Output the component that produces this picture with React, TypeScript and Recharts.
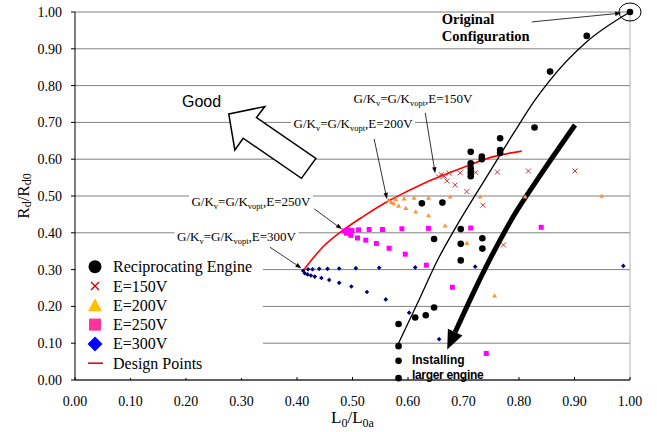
import React from "react";
import {
  ComposedChart,
  CartesianGrid,
  XAxis,
  YAxis,
  Scatter,
  Line,
  Legend,
  ReferenceDot,
  ReferenceLine
} from "recharts";

const SERIF = '"Liberation Serif", "Times New Roman", serif';
const SANS = '"Liberation Sans", Arial, sans-serif';

const ticks = [0, 0.1, 0.2, 0.3, 0.4, 0.5, 0.6, 0.7, 0.8, 0.9, 1.0];

const seriesNames = [
  "Reciprocating Engine",
  "E=150V",
  "E=200V",
  "E=250V",
  "E=300V",
  "Design Points"
];

const reciprocating = [
  { x: 0.583, y: 0.005 }, { x: 0.583, y: 0.052 }, { x: 0.583, y: 0.092 },
  { x: 0.583, y: 0.152 }, { x: 0.613, y: 0.17 }, { x: 0.632, y: 0.176 },
  { x: 0.647, y: 0.197 }, { x: 0.625, y: 0.48 }, { x: 0.662, y: 0.482 },
  { x: 0.647, y: 0.383 }, { x: 0.695, y: 0.41 }, { x: 0.695, y: 0.37 },
  { x: 0.695, y: 0.325 }, { x: 0.734, y: 0.385 }, { x: 0.734, y: 0.357 },
  { x: 0.713, y: 0.62 }, { x: 0.713, y: 0.589 }, { x: 0.713, y: 0.575 },
  { x: 0.713, y: 0.564 }, { x: 0.713, y: 0.554 }, { x: 0.733, y: 0.607 },
  { x: 0.733, y: 0.6 }, { x: 0.766, y: 0.657 }, { x: 0.766, y: 0.625 },
  { x: 0.766, y: 0.617 }, { x: 0.828, y: 0.686 }, { x: 0.856, y: 0.838 },
  { x: 0.922, y: 0.935 }, { x: 1.0, y: 1.0 }
];

const e150 = [
  { x: 0.655, y: 0.552 }, { x: 0.66, y: 0.558 }, { x: 0.665, y: 0.554 },
  { x: 0.67, y: 0.541 }, { x: 0.674, y: 0.562 }, { x: 0.685, y: 0.53 },
  { x: 0.694, y: 0.563 }, { x: 0.706, y: 0.512 }, { x: 0.722, y: 0.564 },
  { x: 0.735, y: 0.475 }, { x: 0.761, y: 0.565 }, { x: 0.772, y: 0.367 },
  { x: 0.817, y: 0.568 }, { x: 0.901, y: 0.568 }
];

const e200 = [
  { x: 0.565, y: 0.489 }, { x: 0.57, y: 0.483 }, { x: 0.574, y: 0.48 },
  { x: 0.578, y: 0.491 }, { x: 0.583, y: 0.473 }, { x: 0.593, y: 0.493 },
  { x: 0.596, y: 0.467 }, { x: 0.611, y: 0.495 }, { x: 0.614, y: 0.457 },
  { x: 0.637, y: 0.495 }, { x: 0.637, y: 0.447 }, { x: 0.667, y: 0.419 },
  { x: 0.676, y: 0.498 }, { x: 0.706, y: 0.372 }, { x: 0.73, y: 0.498 },
  { x: 0.756, y: 0.229 }, { x: 0.811, y: 0.498 }, { x: 0.949, y: 0.5 }
];

const e250 = [
  { x: 0.485, y: 0.405 }, { x: 0.489, y: 0.399 }, { x: 0.492, y: 0.408 },
  { x: 0.497, y: 0.393 }, { x: 0.499, y: 0.406 }, { x: 0.511, y: 0.408 },
  { x: 0.509, y: 0.386 }, { x: 0.524, y: 0.38 }, { x: 0.53, y: 0.409 },
  { x: 0.543, y: 0.371 }, { x: 0.554, y: 0.409 }, { x: 0.566, y: 0.358 },
  { x: 0.589, y: 0.411 }, { x: 0.595, y: 0.342 }, { x: 0.633, y: 0.312 },
  { x: 0.637, y: 0.412 }, { x: 0.68, y: 0.252 }, { x: 0.713, y: 0.413 },
  { x: 0.741, y: 0.072 }, { x: 0.84, y: 0.415 }
];

const e300 = [
  { x: 0.411, y: 0.297 }, { x: 0.42, y: 0.301 }, { x: 0.428, y: 0.301 },
  { x: 0.44, y: 0.302 }, { x: 0.455, y: 0.302 }, { x: 0.476, y: 0.303 },
  { x: 0.506, y: 0.304 }, { x: 0.548, y: 0.305 }, { x: 0.613, y: 0.306 },
  { x: 0.721, y: 0.308 }, { x: 0.988, y: 0.31 },
  { x: 0.414, y: 0.29 }, { x: 0.419, y: 0.287 }, { x: 0.425, y: 0.284 },
  { x: 0.432, y: 0.281 }, { x: 0.444, y: 0.277 }, { x: 0.458, y: 0.272 },
  { x: 0.476, y: 0.264 }, { x: 0.498, y: 0.254 }, { x: 0.526, y: 0.239 },
  { x: 0.56, y: 0.219 }, { x: 0.602, y: 0.183 }, { x: 0.656, y: 0.111 }
];

const designPoints = [
  { x: 0.41, y: 0.295 }, { x: 0.447, y: 0.362 }, { x: 0.484, y: 0.408 },
  { x: 0.519, y: 0.444 }, { x: 0.568, y: 0.489 }, { x: 0.598, y: 0.512 },
  { x: 0.64, y: 0.542 }, { x: 0.7, y: 0.578 }, { x: 0.754, y: 0.607 },
  { x: 0.805, y: 0.622 }
];

// trend through the reciprocating engine points
const engineTrend = [
  { x: 0.583, y: 0.1 }, { x: 0.62, y: 0.218 }, { x: 0.652, y: 0.322 },
  { x: 0.69, y: 0.425 }, { x: 0.74, y: 0.548 }, { x: 0.79, y: 0.67 },
  { x: 0.829, y: 0.761 }, { x: 0.856, y: 0.815 }, { x: 0.922, y: 0.919 },
  { x: 1.0, y: 1.0 }
];

// "Installing larger engine" arrow, head base first
const largerEngine = [
  { x: 0.685, y: 0.13 }, { x: 0.715, y: 0.228 }, { x: 0.75, y: 0.335 },
  { x: 0.79, y: 0.445 }, { x: 0.84, y: 0.56 }, { x: 0.901, y: 0.693 }
];

// hollow "Good" arrow outline
const goodArrow = [
  { x: 0.277, y: 0.723 }, { x: 0.342, y: 0.743 }, { x: 0.327, y: 0.713 },
  { x: 0.434, y: 0.602 }, { x: 0.408, y: 0.548 }, { x: 0.303, y: 0.657 },
  { x: 0.288, y: 0.625 }
];

const gkNotes = [
  { volt: "150V", x: 0.609, y: 0.766, from: { x: 0.631, y: 0.726 }, to: { x: 0.649, y: 0.562 } },
  { volt: "200V", x: 0.501, y: 0.698, from: { x: 0.539, y: 0.655 }, to: { x: 0.562, y: 0.492 } },
  { volt: "250V", x: 0.317, y: 0.486, from: { x: 0.431, y: 0.465 }, to: { x: 0.481, y: 0.41 } },
  { volt: "300V", x: 0.291, y: 0.389, from: { x: 0.351, y: 0.361 }, to: { x: 0.408, y: 0.304 } }
];

const CircleDot = (p: any) => <circle cx={p.cx} cy={p.cy} r={3.3} fill="#000" />;
const CrossDot = (p: any) => (
  <path
    d={`M${p.cx - 2.5},${p.cy - 2.5}L${p.cx + 2.5},${p.cy + 2.5}M${p.cx - 2.5},${p.cy + 2.5}L${p.cx + 2.5},${p.cy - 2.5}`}
    stroke="#CC3333"
    strokeWidth={1}
    fill="none"
  />
);
const TriDot = (p: any) => (
  <polygon
    points={`${p.cx},${p.cy - 2.6} ${p.cx + 2.5},${p.cy + 1.8} ${p.cx - 2.5},${p.cy + 1.8}`}
    fill="#F7963C"
  />
);
const SquareDot = (p: any) => (
  <rect x={p.cx - 2.5} y={p.cy - 2.5} width={5} height={5} fill="#FF00FF" />
);
const DiamondDot = (p: any) => (
  <polygon
    points={`${p.cx},${p.cy - 2.3} ${p.cx + 2.3},${p.cy} ${p.cx},${p.cy + 2.3} ${p.cx - 2.3},${p.cy}`}
    fill="#000080"
  />
);

const ArrowLine = (p: any) => {
  const { x1, y1, x2, y2 } = p;
  const a = Math.atan2(y2 - y1, x2 - x1);
  const L = 6;
  const W = 2.2;
  const bx = x2 - L * Math.cos(a);
  const by = y2 - L * Math.sin(a);
  return (
    <g>
      <line x1={x1} y1={y1} x2={bx} y2={by} stroke="#000" strokeWidth={0.8} />
      <polygon
        points={`${x2},${y2} ${bx - W * Math.sin(a)},${by + W * Math.cos(a)} ${bx + W * Math.sin(a)},${by - W * Math.cos(a)}`}
        fill="#000"
      />
    </g>
  );
};

const GkLabel = ({ cx, cy, volt }: any) => (
  <g>
    <rect x={cx - 62} y={cy - 8} width={124} height={16} fill="#fff" />
    <text x={cx} y={cy + 4.5} textAnchor="middle" fontSize={13} fontFamily={SERIF} fill="#000">
      G/K<tspan dy={3} fontSize={8.5}>v</tspan>
      <tspan dy={-3}>=G/K</tspan>
      <tspan dy={3} fontSize={8.5}>vopt</tspan>
      <tspan dy={-3}>,E={volt}</tspan>
    </text>
  </g>
);

// arrow head drawn at the first point, pointing away from the second one
const headDot = (p: any) => {
  const { index, points, cx, cy } = p;
  if (!points || index !== 0) return <g key={`h-${index}`} />;
  const next = points[1];
  const a = Math.atan2(cy - next.y, cx - next.x);
  const L = 19;
  const W = 8;
  const tx = cx + L * Math.cos(a);
  const ty = cy + L * Math.sin(a);
  return (
    <polygon
      key={`h-${index}`}
      points={`${tx},${ty} ${cx - W * Math.sin(a)},${cy + W * Math.cos(a)} ${cx + W * Math.sin(a)},${cy - W * Math.cos(a)}`}
      fill="#000"
    />
  );
};

const goodDot = (p: any) => {
  const { index, points } = p;
  if (!points || index !== 0) return <g key={`g-${index}`} />;
  return (
    <polygon
      key="good"
      points={points.map((q: any) => `${q.x},${q.y}`).join(" ")}
      fill="#fff"
      stroke="#000"
      strokeWidth={1.5}
    />
  );
};

const XTick = (p: any) => {
  const { x, y, payload } = p;
  return (
    <g>
      <line x1={x} x2={x} y1={y} y2={y - 3} stroke="#000" />
      <text x={x} y={y + 26} textAnchor="middle" fontSize={14} fontFamily={SERIF} fill="#000">
        {Number(payload.value).toFixed(2)}
      </text>
    </g>
  );
};

const legendIcon = (i: number, cy: number) => {
  switch (i) {
    case 0:
      return <circle cx={19} cy={cy} r={6.5} fill="#000" />;
    case 1:
      return (
        <path
          d={`M15,${cy - 4}L23,${cy + 4}M15,${cy + 4}L23,${cy - 4}`}
          stroke="#CC0000"
          strokeWidth={1.4}
        />
      );
    case 2:
      return <polygon points={`19,${cy - 7} 26,${cy + 6} 12,${cy + 6}`} fill="#FFC000" />;
    case 3:
      return <rect x={13} y={cy - 6} width={12} height={12} fill="#FF3399" />;
    case 4:
      return (
        <polygon
          points={`19,${cy - 7.5} 26.5,${cy} 19,${cy + 7.5} 11.5,${cy}`}
          fill="#0000FF"
        />
      );
    default:
      return <line x1={12} x2={27} y1={cy} y2={cy} stroke="#FF0000" strokeWidth={1.6} />;
  }
};

const renderLegend = () => (
  <svg width={187} height={122} style={{ display: "block" }}>
    <rect x={0} y={0} width={187} height={122} fill="#fff" />
    {seriesNames.map((name, i) => {
      const cy = 10.7 + i * 19.3;
      return (
        <g key={name}>
          {legendIcon(i, cy)}
          <text x={37} y={cy + 5.5} fontSize={16} fontFamily={SERIF} fill="#000">
            {name}
          </text>
        </g>
      );
    })}
  </svg>
);

export default function App() {
  return (
    <div style={{ position: "absolute", left: 0, top: 0, width: 657, height: 432, background: "#fff" }}>
      <ComposedChart width={657} height={432} margin={{ top: 12, right: 27, bottom: 0, left: 15 }}>
        <CartesianGrid vertical={false} stroke="#808080" />
        <XAxis
          type="number"
          dataKey="x"
          domain={[0, 1]}
          ticks={ticks}
          interval={0}
          height={52}
          axisLine={{ stroke: "#000" }}
          tickLine={false}
          tickSize={0}
          tickMargin={0}
          tick={XTick}
          label={{
            content: ({ viewBox }: any) => (
              <text
                x={viewBox.x + viewBox.width / 2}
                y={viewBox.y + 43}
                textAnchor="middle"
                fontSize={17}
                fontFamily={SERIF}
                fill="#000"
              >
                L<tspan dy={4} fontSize={12}>0</tspan>
                <tspan dy={-4}>/L</tspan>
                <tspan dy={4} fontSize={12}>0a</tspan>
              </text>
            )
          }}
        />
        <YAxis
          type="number"
          dataKey="y"
          domain={[0, 1]}
          ticks={ticks}
          interval={0}
          width={60}
          axisLine={{ stroke: "#000" }}
          tickLine={{ stroke: "#000" }}
          tickSize={4}
          tickMargin={9}
          tick={{ fontSize: 14, fill: "#000", fontFamily: SERIF }}
          tickFormatter={(v) => Number(v).toFixed(2)}
          label={{
            content: ({ viewBox }: any) => {
              const cx = viewBox.x + 8;
              const cy = viewBox.y + viewBox.height / 2;
              return (
                <text
                  x={cx}
                  y={cy}
                  transform={`rotate(-90, ${cx}, ${cy})`}
                  textAnchor="middle"
                  dominantBaseline="central"
                  fontSize={17}
                  fontFamily={SERIF}
                  fill="#000"
                >
                  R<tspan dy={4} fontSize={12}>d</tspan>
                  <tspan dy={-4}>/R</tspan>
                  <tspan dy={4} fontSize={12}>d0</tspan>
                </text>
              );
            }
          }}
        />
        <ReferenceLine x={1} stroke="#b0b0b0" ifOverflow="visible" />

        <Line
          data={goodArrow}
          dataKey="y"
          stroke="none"
          dot={goodDot}
          legendType="none"
          isAnimationActive={false}
        />

        {gkNotes.map((n) => (
          <ReferenceDot
            key={`t-${n.volt}`}
            x={n.x}
            y={n.y}
            ifOverflow="visible"
            shape={(p: any) => <GkLabel {...p} volt={n.volt} />}
          />
        ))}
        {gkNotes.map((n) => (
          <ReferenceLine
            key={`a-${n.volt}`}
            segment={[n.from, n.to]}
            ifOverflow="visible"
            shape={ArrowLine}
          />
        ))}
        <ReferenceLine
          segment={[{ x: 0.823, y: 0.973 }, { x: 0.984, y: 0.997 }]}
          ifOverflow="visible"
          shape={ArrowLine}
        />
        <ReferenceDot
          x={0.228}
          y={0.756}
          ifOverflow="visible"
          shape={(p: any) => (
            <text x={p.cx} y={p.cy + 5.5} textAnchor="middle" fontSize={16} fontFamily={SANS} fill="#000">
              Good
            </text>
          )}
        />
        <ReferenceDot
          x={0.661}
          y={0.981}
          ifOverflow="visible"
          shape={(p: any) => (
            <text x={p.cx} y={p.cy + 5} fontSize={14.5} fontWeight="bold" fontFamily={SERIF} fill="#000">
              Original
              <tspan x={p.cx} dy={17}>Configuration</tspan>
            </text>
          )}
        />
        <ReferenceDot
          x={0.607}
          y={0.057}
          ifOverflow="visible"
          shape={(p: any) => (
            <text x={p.cx} y={p.cy + 4.5} fontSize={12} fontWeight="bold" fontFamily={SANS} fill="#000">
              Installing
              <tspan x={p.cx} dy={15} letterSpacing={-0.3}>larger engine</tspan>
            </text>
          )}
        />
        <ReferenceDot
          x={1}
          y={1}
          ifOverflow="visible"
          shape={(p: any) => (
            <ellipse cx={p.cx} cy={p.cy} rx={11} ry={9} fill="none" stroke="#000" strokeWidth={1} />
          )}
        />

        <Line
          data={engineTrend}
          dataKey="y"
          type="monotone"
          stroke="#000"
          strokeWidth={1.3}
          dot={false}
          legendType="none"
          isAnimationActive={false}
        />
        <Line
          data={largerEngine}
          dataKey="y"
          type="monotone"
          stroke="#000"
          strokeWidth={5}
          dot={headDot}
          legendType="none"
          isAnimationActive={false}
        />

        <Scatter name={seriesNames[4]} data={e300} shape={DiamondDot} isAnimationActive={false} />
        <Scatter name={seriesNames[3]} data={e250} shape={SquareDot} isAnimationActive={false} />
        <Scatter name={seriesNames[2]} data={e200} shape={TriDot} isAnimationActive={false} />
        <Scatter name={seriesNames[1]} data={e150} shape={CrossDot} isAnimationActive={false} />
        <Scatter name={seriesNames[0]} data={reciprocating} shape={CircleDot} isAnimationActive={false} />
        <Line
          name={seriesNames[5]}
          data={designPoints}
          dataKey="y"
          type="monotone"
          stroke="#FF0000"
          strokeWidth={1.6}
          dot={false}
          isAnimationActive={false}
        />

        <Legend
          layout="vertical"
          align="center"
          verticalAlign="middle"
          wrapperStyle={{ left: 76, top: 256, width: 187, height: 122 }}
          content={renderLegend}
        />
      </ComposedChart>
    </div>
  );
}
